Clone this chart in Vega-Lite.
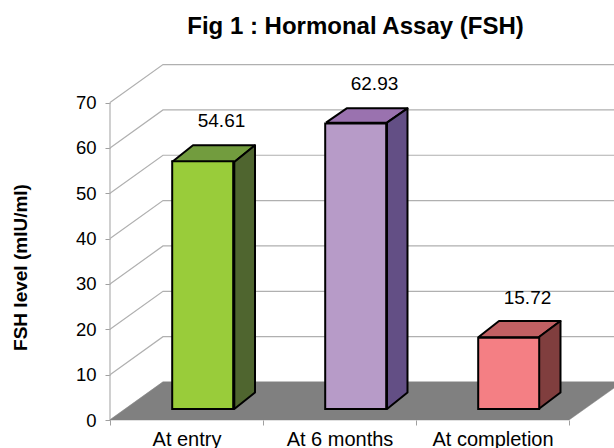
{
"$schema":"https://vega.github.io/schema/vega-lite/v6.json",
"width":459,"height":356,
"autosize":"none",
"padding":{"left":110,"top":64,"right":45,"bottom":28},
"background":"white",
"config":{"view":{"stroke":null},"font":"Liberation Sans"},
"title":{"text":"Fig 1 : Hormonal Assay (FSH)","font":"Liberation Sans","fontSize":24,"fontWeight":"bold","color":"black","anchor":"middle","dx":16,"offset":23},
"datasets":{
"bars":[{"category":"At entry","value":54.61},{"category":"At 6 months","value":62.93},{"category":"At completion","value":15.72}],
"grid":[
{"id":"axis","o":0,"x":0,"y":0},{"id":"axis","o":1,"x":0,"y":70},
{"id":"g0","o":0,"x":0,"y":0},{"id":"g0","o":1,"x":0.3464,"y":8.38},{"id":"g0","o":2,"x":3.35,"y":8.38},
{"id":"g10","o":0,"x":0,"y":10},{"id":"g10","o":1,"x":0.3464,"y":18.38},{"id":"g10","o":2,"x":3.35,"y":18.38},
{"id":"g20","o":0,"x":0,"y":20},{"id":"g20","o":1,"x":0.3464,"y":28.38},{"id":"g20","o":2,"x":3.35,"y":28.38},
{"id":"g30","o":0,"x":0,"y":30},{"id":"g30","o":1,"x":0.3464,"y":38.38},{"id":"g30","o":2,"x":3.35,"y":38.38},
{"id":"g40","o":0,"x":0,"y":40},{"id":"g40","o":1,"x":0.3464,"y":48.38},{"id":"g40","o":2,"x":3.35,"y":48.38},
{"id":"g50","o":0,"x":0,"y":50},{"id":"g50","o":1,"x":0.3464,"y":58.38},{"id":"g50","o":2,"x":3.35,"y":58.38},
{"id":"g60","o":0,"x":0,"y":60},{"id":"g60","o":1,"x":0.3464,"y":68.38},{"id":"g60","o":2,"x":3.35,"y":68.38},
{"id":"g70","o":0,"x":0,"y":70},{"id":"g70","o":1,"x":0.3464,"y":78.38},{"id":"g70","o":2,"x":3.35,"y":78.38}
],
"floor":[{"o":0,"x":0,"y":0},{"o":1,"x":0.3464,"y":8.38},{"o":2,"x":3.35,"y":8.38},{"o":3,"x":3,"y":0},{"o":4,"x":0,"y":0}],
"faces":[
{"face":"top1","o":0,"x":0.4052,"y":56.89},{"face":"top1","o":1,"x":0.8124,"y":56.89},{"face":"top1","o":2,"x":0.9477,"y":60.57},{"face":"top1","o":3,"x":0.5425,"y":60.57},{"face":"top1","o":4,"x":0.4052,"y":56.89},
{"face":"side1","o":0,"x":0.8124,"y":56.89},{"face":"side1","o":1,"x":0.9477,"y":60.57},{"face":"side1","o":2,"x":0.9477,"y":6.06},{"face":"side1","o":3,"x":0.8124,"y":2.43},{"face":"side1","o":4,"x":0.8124,"y":56.89},
{"face":"top2","o":0,"x":1.4118,"y":65.56},{"face":"top2","o":1,"x":1.8105,"y":65.56},{"face":"top2","o":2,"x":1.9444,"y":68.73},{"face":"top2","o":3,"x":1.5471,"y":68.73},{"face":"top2","o":4,"x":1.4118,"y":65.56},
{"face":"side2","o":0,"x":1.8105,"y":65.56},{"face":"side2","o":1,"x":1.9444,"y":68.73},{"face":"side2","o":2,"x":1.9444,"y":6.06},{"face":"side2","o":3,"x":1.8105,"y":2.43},{"face":"side2","o":4,"x":1.8105,"y":65.56},
{"face":"top3","o":0,"x":2.4072,"y":18.24},{"face":"top3","o":1,"x":2.802,"y":18.24},{"face":"top3","o":2,"x":2.9444,"y":21.83},{"face":"top3","o":3,"x":2.5425,"y":21.83},{"face":"top3","o":4,"x":2.4072,"y":18.24},
{"face":"side3","o":0,"x":2.802,"y":18.24},{"face":"side3","o":1,"x":2.9444,"y":21.83},{"face":"side3","o":2,"x":2.9444,"y":6.06},{"face":"side3","o":3,"x":2.802,"y":2.43},{"face":"side3","o":4,"x":2.802,"y":18.24}
]
},
"resolve":{"scale":{"x":"independent","y":"independent","fill":"independent"},"axis":{"x":"independent","y":"independent"}},
"layer":[
{"data":{"name":"grid"},
 "mark":{"type":"line","stroke":"#b0b0b0","strokeWidth":1.2,"clip":false},
 "encoding":{
  "x":{"field":"x","type":"quantitative","scale":{"domain":[0,3],"nice":false,"zero":false},"axis":null},
  "y":{"field":"y","type":"quantitative","scale":{"domain":[0,78.5],"nice":false},
   "axis":{"values":[0,10,20,30,40,50,60,70],"grid":false,"domain":false,"tickColor":"#a0a0a0","tickSize":5,"labelFontSize":18.5,"labelColor":"black","labelFont":"Liberation Sans","labelPadding":9,
    "title":"FSH level (mIU/ml)","titleFont":"Liberation Sans","titleFontSize":19,"titleFontWeight":"bold","titleColor":"black","titleX":-80,"titleY":203}},
  "detail":{"field":"id"},
  "order":{"field":"o"}
 }},
{"data":{"name":"floor"},
 "mark":{"type":"line","fill":"#808080","stroke":"#808080","strokeWidth":0.5,"clip":false},
 "encoding":{
  "x":{"field":"x","type":"quantitative","scale":{"domain":[0,3],"nice":false,"zero":false},"axis":null},
  "y":{"field":"y","type":"quantitative","scale":{"domain":[0,78.5],"nice":false},"axis":null},
  "order":{"field":"o"}
 }},
{"data":{"name":"faces"},
 "mark":{"type":"line","stroke":"black","strokeWidth":2,"strokeJoin":"round","clip":false},
 "encoding":{
  "x":{"field":"x","type":"quantitative","scale":{"domain":[0,3],"nice":false,"zero":false},"axis":null},
  "y":{"field":"y","type":"quantitative","scale":{"domain":[0,78.5],"nice":false},"axis":null},
  "fill":{"field":"face","type":"nominal","legend":null,"scale":{"domain":["top1","side1","top2","side2","top3","side3"],"range":["#729c3e","#4f652f","#9a72af","#634f85","#c06063","#803e3e"]}},
  "detail":{"field":"face"},
  "order":{"field":"o"}
 }},
{"data":{"name":"bars"},
 "mark":{"type":"bar","width":61,"xOffset":16.2,"stroke":"black","strokeWidth":2},
 "encoding":{
  "x":{"field":"category","type":"nominal","sort":null,"scale":{"paddingInner":0,"paddingOuter":0},
   "axis":{"title":null,"labelAngle":0,"labelFontSize":20,"labelColor":"black","labelFont":"Liberation Sans","tickBand":"extent","tickColor":"#a0a0a0","tickSize":5,"domain":false,"grid":false,"labelPadding":4}},
  "y":{"field":"value","type":"quantitative","stack":null,"scale":{"domain":[-2.43,76.07],"nice":false,"zero":false},"axis":null},
  "fill":{"field":"category","type":"nominal","sort":null,"legend":null,"scale":{"domain":["At entry","At 6 months","At completion"],"range":["#99cc3a","#b79bc8","#f47f84"]}}
 }},
{"data":{"name":"bars"},
 "mark":{"type":"text","xOffset":35,"yOffset":-40,"fontSize":19,"font":"Liberation Sans","color":"black"},
 "encoding":{
  "x":{"field":"category","type":"nominal","sort":null,"scale":{"paddingInner":0,"paddingOuter":0},"axis":null},
  "y":{"field":"value","type":"quantitative","scale":{"domain":[-2.43,76.07],"nice":false,"zero":false},"axis":null},
  "text":{"field":"value","type":"quantitative","format":".2f"}
 }}
]
}
